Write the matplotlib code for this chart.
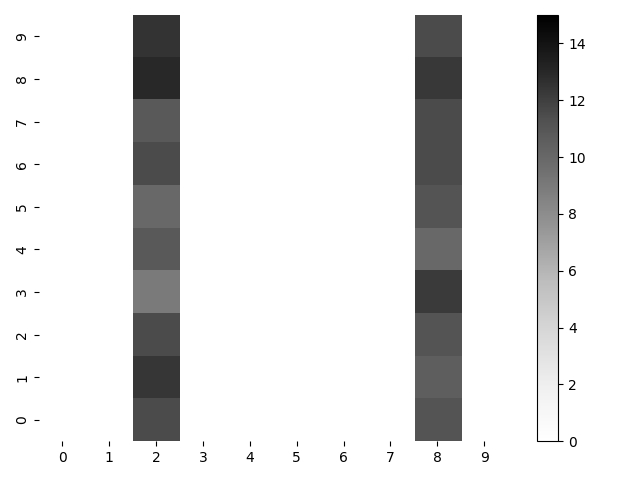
import numpy as np
import matplotlib
matplotlib.use("Agg")
import matplotlib.pyplot as plt

columns = list(range(10))
rows = list(range(10))
col2_values = [11.5, 12.4, 11.5, 9.0, 10.8, 10.0, 11.5, 10.8, 13.0, 12.5]
col8_values = [11.1, 10.5, 11.1, 12.2, 10.0, 11.1, 11.5, 11.5, 12.3, 11.5]

data = np.full((len(rows), len(columns)), np.nan)
data[:, 2] = col2_values
data[:, 8] = col8_values

fig, ax = plt.subplots(figsize=(6.4, 4.8), dpi=100)
im = ax.imshow(data, origin='lower', aspect='auto', cmap='Greys', vmin=0, vmax=15,
               interpolation='nearest')
for s in ax.spines.values():
    s.set_visible(False)
ax.set_xticks(columns)
ax.set_xticklabels([str(c) for c in columns])
ax.set_yticks(rows)
ax.set_yticklabels([str(r) for r in rows], rotation=90, va='center')
fig.colorbar(im, ax=ax)
fig.tight_layout()
fig.savefig("out.png", dpi=100)
